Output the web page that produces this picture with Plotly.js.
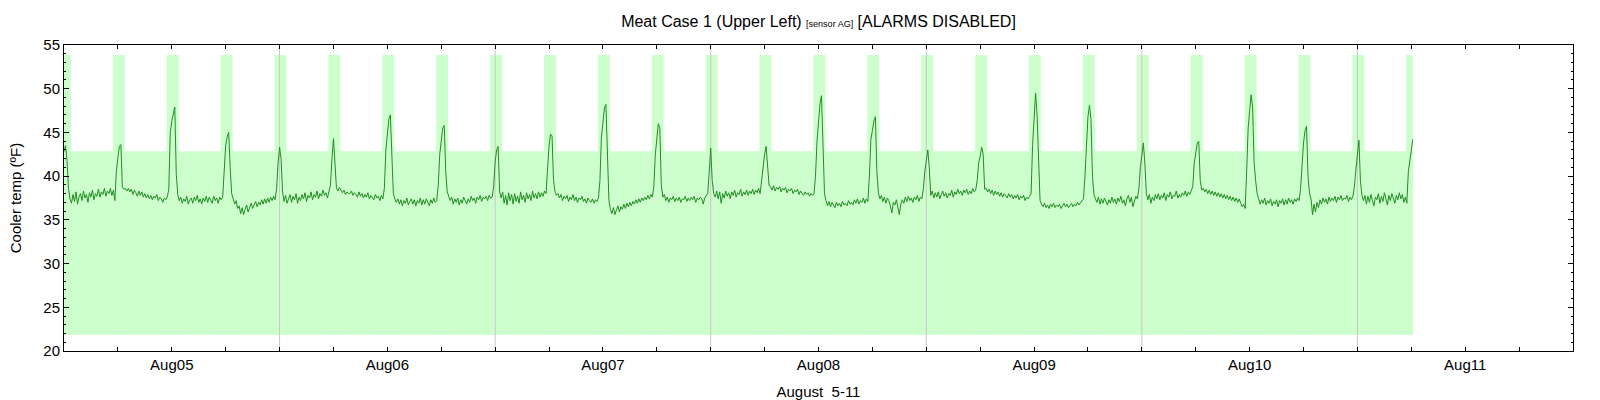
<!DOCTYPE html>
<html>
<head>
<meta charset="utf-8">
<script src="https://cdn.plot.ly/plotly-3.0.1.min.js"></script>
<style>body { margin: 0; background: #fff; }</style>
</head>
<body>
<div id="plot-temp" style="width:1600px;height:400px"></div>
<script>
// cooler temperature, one reading every 10 minutes, one array per day
var sampleMinutes = 10;

var temp_aug04 = [
    42.8, 43.5, 41.8, 38.6, 37.4, 36.9,
    37.9, 37.1, 38.2, 36.8, 37.6, 38.0, 37.2, 38.3, 37.5, 37.9, 37.0, 38.1, 37.6, 38.4,
    37.3, 38.0, 37.7, 38.5, 37.6, 38.2, 37.9, 38.6, 37.7, 38.3, 38.0, 38.6, 37.8, 38.4,
    37.2, 40.6,
    42.1, 43.4, 43.6, 38.7, 38.5, 38.6,
    38.3, 38.6, 38.2, 38.5, 37.9, 38.4, 38.1, 37.7, 38.3, 37.8, 38.2, 37.6, 38.0, 37.5,
    37.9, 37.4, 37.8, 37.3, 37.7, 37.5, 37.9, 37.2, 37.6, 37.4, 37.0, 37.5, 37.3, 37.6,
    38.5, 45.0
];

var temp_aug05 = [
    46.3, 47.3, 47.9, 40.2, 37.9, 37.2,
    37.6, 36.9, 37.4, 37.1, 37.7, 36.8, 37.3, 37.5, 36.9, 37.6, 37.2, 37.8, 37.0, 37.4,
    36.8, 37.5, 37.1, 37.7, 37.0, 37.6, 37.3, 36.9, 37.7, 37.2, 37.5, 36.9, 37.6, 37.3,
    37.6, 40.5,
    43.5, 44.5, 45.0, 41.0, 38.0, 37.4,
    36.8, 37.2, 36.3, 36.6, 35.7, 36.4, 35.6, 36.2, 36.7, 35.9, 36.5, 36.9, 36.3, 36.8,
    37.1, 36.5, 37.0, 36.7, 37.3, 36.8, 37.4, 36.9, 37.5, 37.0, 37.6, 37.2, 37.7, 37.3,
    38.5, 41.5,
    43.3, 42.0, 38.2, 37.1, 37.8, 36.9,
    37.5, 37.9, 37.0, 37.7, 37.3, 38.0, 36.9, 37.6, 37.2, 37.9, 37.4, 38.1, 37.1, 37.8,
    37.5, 38.2, 37.3, 37.9, 37.6, 38.3, 37.4, 38.0, 37.7, 38.4, 37.8, 38.1, 37.5, 38.3,
    39.0, 42.0,
    44.3, 41.5, 38.6, 38.3, 38.7, 38.4,
    38.1, 38.4, 37.9, 38.2, 38.0, 38.0, 38.3, 37.8, 38.1, 37.9, 37.6, 38.2, 37.7, 38.0,
    37.5, 37.9, 37.6, 38.1, 37.4, 37.8, 37.6, 37.3, 37.9, 37.5, 37.7, 37.2, 37.8, 37.4,
    38.6, 43.0
];

var temp_aug06 = [
    44.8, 46.5, 47.0, 41.0, 38.0, 37.4,
    37.0, 37.4, 36.8, 37.3, 36.6, 37.2, 36.9, 37.5, 36.7, 37.1, 37.4, 36.8, 37.3, 36.6,
    37.2, 36.9, 37.5, 36.7, 37.3, 36.8, 37.4, 37.0, 36.6, 37.3, 36.9, 37.5, 37.0, 37.2,
    39.0, 42.5,
    44.5, 45.5, 45.8, 40.5, 38.2, 37.8,
    37.2, 37.6, 36.8, 37.4, 37.0, 37.5, 36.7, 37.3, 36.9, 37.6, 37.1, 36.8, 37.4, 37.0,
    37.7, 37.2, 37.5, 36.9, 37.6, 37.3, 37.8, 37.1, 37.6, 37.4, 37.7, 37.2, 37.8, 37.5,
    37.6, 38.8,
    41.6, 43.0, 43.4, 38.2, 37.5, 38.2,
    36.9, 37.8, 36.7, 38.1, 37.2, 37.9, 36.8, 38.0, 37.1, 37.7, 36.9, 38.2, 37.3, 37.8,
    37.0, 38.1, 37.4, 37.9, 37.2, 38.3, 37.5, 38.0, 37.4, 38.2, 37.6, 38.1, 37.7, 38.3,
    38.0, 41.5,
    43.5, 44.8, 44.6, 39.5, 38.2, 37.8,
    38.0, 37.5, 37.9, 37.2, 37.7, 37.4, 37.8, 37.1, 37.6, 37.3, 37.9, 37.2, 37.6, 37.0,
    37.5, 37.3, 37.7, 37.1, 37.4, 36.9, 37.5, 37.2, 37.0, 37.4, 36.9, 37.3, 37.1, 37.5,
    39.5, 44.5
];

var temp_aug07 = [
    46.5, 47.8, 48.2, 41.5, 37.2, 36.2,
    35.7, 36.4, 35.6, 36.1, 36.6, 35.9, 36.5, 36.2, 36.8, 36.3, 36.9, 36.5, 37.0, 36.6,
    37.1, 36.8, 37.3, 36.9, 37.4, 37.0, 37.5, 37.2, 37.6, 37.3, 37.8, 37.4, 37.9, 37.6,
    38.8, 42.5,
    44.8, 46.0, 45.5, 39.0, 37.6, 37.9,
    37.2, 37.6, 37.0, 37.5, 37.3, 37.7, 37.1, 37.5, 37.2, 37.6, 37.0, 37.4, 37.3, 37.7,
    37.1, 37.5, 37.2, 37.6, 37.3, 37.7, 37.0, 37.5, 37.3, 37.6, 37.4, 36.8, 37.5, 37.7,
    38.0, 40.5,
    43.2, 39.5, 38.0, 37.6, 38.3, 37.4,
    38.2, 36.9, 38.0, 37.5, 38.3, 37.7, 38.1, 37.4, 38.2, 37.8, 38.4, 37.6, 38.1, 37.9,
    38.5, 37.7, 38.2, 37.9, 38.4, 37.8, 38.3, 38.0, 38.5, 37.9, 38.4, 38.1, 38.6, 38.0,
    39.5, 41.5,
    42.5, 43.4, 40.5, 38.9, 38.8, 38.4,
    38.9, 38.3, 38.7, 38.5, 38.8, 38.2, 38.6, 38.4, 38.7, 38.1, 38.5, 38.3, 38.6, 38.0,
    38.4, 38.2, 38.5, 37.9, 38.3, 38.1, 37.8, 38.2, 37.9, 38.1, 37.7, 38.0, 37.8, 38.0,
    40.0, 44.0
];

var temp_aug08 = [
    46.0, 48.3, 49.2, 42.0, 38.0, 37.2,
    36.6, 37.1, 36.5, 37.0, 36.7, 36.4, 37.0, 36.6, 36.9, 36.5, 37.1, 36.7, 36.9, 36.6,
    37.2, 36.8, 37.0, 36.7, 37.3, 36.9, 37.4, 36.8, 37.2, 37.0, 37.5, 36.9, 37.4, 37.1,
    40.0, 44.2,
    45.2, 46.3, 46.8, 40.5, 38.1, 37.4,
    37.8, 37.1, 37.6, 36.9, 37.5, 37.2, 36.6, 35.8, 37.0, 36.7, 37.3, 36.4, 35.6, 36.8,
    37.3, 36.9, 37.6, 37.1, 37.7, 37.2, 37.5, 37.0, 37.6, 37.3, 37.8, 37.1, 37.6, 37.4,
    38.5, 40.5,
    42.0, 43.0, 41.0, 37.8, 38.3, 37.5,
    38.1, 37.6, 38.2, 37.4, 37.9, 38.3, 37.7, 38.1, 37.5, 38.0, 37.8, 38.4, 37.6, 38.2,
    37.9, 38.5, 38.0, 38.3, 37.8, 38.4, 38.1, 38.5, 37.9, 38.3, 38.0, 38.6, 38.2, 38.4,
    39.5, 41.5,
    42.3, 43.3, 42.5, 38.5, 38.6, 38.2,
    38.5, 38.0, 38.4, 37.8, 38.3, 37.9, 38.2, 37.7, 38.1, 37.6, 38.0, 37.8, 37.5, 38.0,
    37.6, 37.9, 37.4, 37.8, 37.5, 37.9, 37.3, 37.7, 37.5, 37.8, 37.2, 37.6, 37.4, 37.7,
    38.0, 43.5
];

var temp_aug09 = [
    46.5, 49.5, 47.0, 41.0, 37.2, 36.8,
    36.5, 36.9, 36.4, 36.7, 36.3, 36.8, 36.5, 36.9, 36.4, 36.7, 36.5, 36.8, 36.3, 36.6,
    36.9, 36.5, 36.8, 36.4, 36.7, 36.9, 36.5, 36.8, 36.6, 37.0, 36.7, 36.9, 37.1, 37.4,
    40.0, 44.0,
    46.8, 48.1, 46.5, 40.0, 37.9, 37.4,
    37.0, 37.6, 36.8, 37.4, 36.9, 37.5, 37.1, 36.7, 37.3, 36.9, 37.6, 37.0, 37.4, 36.8,
    37.5, 37.1, 37.7, 36.9, 37.3, 36.6, 37.4, 37.8, 37.0, 37.6, 36.5, 37.3, 37.7, 37.4,
    38.5, 41.0,
    42.8, 43.8, 41.5, 38.0, 37.3, 37.9,
    36.9, 37.6, 37.2, 37.9, 37.4, 38.0, 37.3, 37.8, 37.5, 38.1, 37.2, 37.9, 37.6, 38.2,
    37.4, 37.8, 37.7, 38.3, 37.5, 37.9, 37.6, 38.1, 37.8, 38.3, 37.7, 38.2, 37.9, 38.3,
    38.8, 41.5,
    42.8, 43.8, 44.0, 39.5, 38.4, 38.6,
    38.2, 38.5, 38.0, 38.4, 37.9, 38.3, 37.8, 38.2, 37.7, 38.1, 37.6, 38.0, 37.5, 37.9,
    37.4, 37.8, 37.3, 37.7, 37.2, 37.6, 37.1, 37.5, 37.0, 37.4, 36.9, 36.5, 36.8, 36.3,
    40.5, 45.5
];

var temp_aug10 = [
    47.5, 49.3, 47.8, 41.5, 39.5, 38.0,
    37.4, 36.8, 37.3, 36.9, 37.5, 36.7, 37.2, 36.9, 37.4, 36.6, 37.1, 36.8, 37.3, 36.5,
    37.2, 36.9, 37.4, 36.7, 37.3, 36.8, 37.5, 37.0, 37.3, 36.8, 37.4, 37.1, 37.5, 37.2,
    38.5, 41.5,
    43.8, 45.2, 45.7, 40.0, 38.0, 37.4,
    35.6, 36.8, 35.9, 37.0, 36.4, 37.3, 36.8, 37.5, 37.0, 37.4, 36.8, 37.6, 37.1, 37.5,
    37.2, 37.7, 37.0, 37.6, 37.3, 37.8, 37.2, 37.5, 37.4, 37.8, 37.1, 37.6, 37.3, 37.7,
    38.8, 40.8,
    42.5, 44.1, 39.5, 37.8, 37.2, 37.8,
    36.8, 37.7, 37.0, 37.9, 37.2, 36.6, 37.6, 37.3, 38.0, 36.9, 37.7, 37.1, 38.1, 37.4,
    36.7, 37.8, 37.2, 38.0, 37.5, 36.9, 37.8, 37.3, 38.1, 37.4, 37.9, 37.0, 37.6, 36.9,
    40.5, 41.8,
    43.2, 44.2
];

var dayStart = ['2015-08-04T12:00:00Z', '2015-08-05T00:00:00Z', '2015-08-06T00:00:00Z',
                '2015-08-07T00:00:00Z', '2015-08-08T00:00:00Z', '2015-08-09T00:00:00Z',
                '2015-08-10T00:00:00Z'];
var dayTemps = [temp_aug04, temp_aug05, temp_aug06, temp_aug07, temp_aug08, temp_aug09, temp_aug10];

// defrost cycles (shaded up to the top band)
var defrostMinutes = 80;
var defrostStart = [
    '2015-08-04T11:26:00Z', '2015-08-04T17:26:00Z', '2015-08-04T23:26:00Z',
    '2015-08-05T05:26:00Z', '2015-08-05T11:26:00Z', '2015-08-05T17:26:00Z', '2015-08-05T23:26:00Z',
    '2015-08-06T05:26:00Z', '2015-08-06T11:26:00Z', '2015-08-06T17:26:00Z', '2015-08-06T23:26:00Z',
    '2015-08-07T05:26:00Z', '2015-08-07T11:26:00Z', '2015-08-07T17:26:00Z', '2015-08-07T23:26:00Z',
    '2015-08-08T05:26:00Z', '2015-08-08T11:26:00Z', '2015-08-08T17:26:00Z', '2015-08-08T23:26:00Z',
    '2015-08-09T05:26:00Z', '2015-08-09T11:26:00Z', '2015-08-09T17:26:00Z', '2015-08-09T23:26:00Z',
    '2015-08-10T05:26:00Z', '2015-08-10T11:26:00Z', '2015-08-10T17:26:00Z'
];
var bandLow = 21.85;
var bandHigh = 42.85;
var defrostTop = 53.85;

var noonMarks = ['2015-08-05 12:00', '2015-08-06 12:00', '2015-08-07 12:00',
                 '2015-08-08 12:00', '2015-08-09 12:00', '2015-08-10 12:00'];

function plot_temp() {
    'use strict';

    var x = [], y = [];
    for (var d = 0; d < dayTemps.length; d++) {
        var t0 = Date.parse(dayStart[d]);
        for (var i = 0; i < dayTemps[d].length; i++) {
            x.push(t0 + i * sampleMinutes * 60000);
            y.push(dayTemps[d][i]);
        }
    }
    var tFirst = x[0], tLast = x[x.length - 1];

    var shapes = [{
        type: 'rect', xref: 'x', yref: 'y',
        x0: tFirst, x1: tLast, y0: bandLow, y1: bandHigh,
        fillcolor: '#ccffcc', line: {width: 0}, layer: 'below'
    }];
    defrostStart.forEach(function (s) {
        var a = Math.max(Date.parse(s), tFirst);
        var b = Math.min(Date.parse(s) + defrostMinutes * 60000, tLast);
        shapes.push({
            type: 'rect', xref: 'x', yref: 'y',
            x0: a, x1: b, y0: bandLow, y1: defrostTop,
            fillcolor: '#ccffcc', line: {width: 0}, layer: 'below'
        });
    });
    // noon markers go on top of the shading
    noonMarks.forEach(function (s) {
        shapes.push({
            type: 'line', xref: 'x', yref: 'y',
            x0: s, x1: s, y0: 20, y1: 55,
            line: {color: '#c8c8c8', width: 1}, layer: 'below'
        });
    });

    var trace = {
        type: 'scatter',
        mode: 'lines',
        x: x,
        y: y,
        line: {color: '#228b22', width: 1},
        hoverinfo: 'x+y'
    };

    var layout = {
        width: 1600, height: 400,
        margin: {l: 64, r: 27, t: 45, b: 49, pad: 0},
        paper_bgcolor: '#fff', plot_bgcolor: '#fff',
        font: {family: 'Liberation Sans, Arial, sans-serif', size: 15, color: '#000'},
        showlegend: false,
        title: {
            text: 'Meat Case 1 (Upper Left) <span style="font-size:9px">[sensor AG]</span> [ALARMS DISABLED]',
            font: {size: 16},
            x: 0.5, xref: 'paper',
            y: 0.946, yref: 'container', yanchor: 'middle'
        },
        xaxis: {
            type: 'date',
            range: ['2015-08-04 12:00', '2015-08-11 12:00'],
            showgrid: false, zeroline: false,
            showline: true, linecolor: '#000', linewidth: 1, mirror: 'ticks',
            ticks: 'inside', ticklen: 4, tickcolor: '#000',
            tick0: '2015-08-05', dtick: 86400000, tickformat: '%b%d',
            minor: {dtick: 21600000, ticks: 'inside', ticklen: 4, tickcolor: '#000', showgrid: false},
            title: {text: 'August\u00a0\u00a05-11', font: {size: 15}}
        },
        yaxis: {
            range: [20, 55],
            showgrid: false, zeroline: false,
            showline: true, linecolor: '#000', linewidth: 1, mirror: 'ticks',
            ticks: 'inside', ticklen: 5, tickcolor: '#000',
            dtick: 5,
            minor: {dtick: 1, ticks: 'inside', ticklen: 2, tickcolor: '#000', showgrid: false},
            title: {text: 'Cooler temp (\u00baF)', font: {size: 15}, standoff: 18}
        },
        shapes: shapes
    };

    Plotly.newPlot('plot-temp', [trace], layout, {displayModeBar: false, staticPlot: true});
}

plot_temp();
</script>
</body>
</html>
